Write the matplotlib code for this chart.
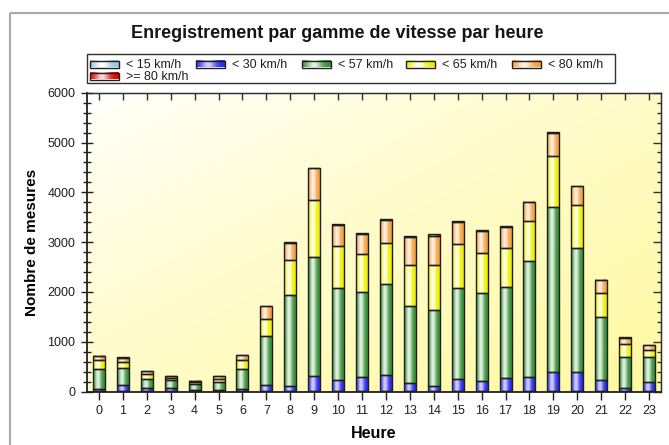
import numpy as np
import matplotlib
matplotlib.use('Agg')
import matplotlib.pyplot as plt
from matplotlib.colors import to_rgb
from matplotlib.patches import Rectangle
from matplotlib.ticker import MultipleLocator

# ---------------- data ----------------
hours = list(range(24))
hour_labels = [str(h) for h in hours]
series_labels = ['< 15 km/h', '< 30 km/h', '< 57 km/h', '< 65 km/h', '< 80 km/h', '>= 80 km/h']
lt15 = [10, 10, 5, 5, 5, 5, 10, 15, 15, 20, 15, 15, 20, 15, 10, 15, 15, 15, 15, 20, 20, 15, 10, 10]
lt30 = [40, 125, 65, 65, 20, 25, 45, 120, 105, 285, 215, 270, 310, 155, 110, 245, 200, 255, 275, 370, 370, 225, 70, 180]
lt57 = [400, 335, 185, 160, 120, 160, 395, 975, 1825, 2400, 1840, 1705, 1835, 1540, 1510, 1810, 1760, 1825, 2325, 3310, 2485, 1255, 610, 500]
lt65 = [175, 120, 95, 45, 40, 65, 185, 345, 700, 1150, 845, 780, 825, 825, 905, 895, 805, 785, 800, 1030, 870, 480, 260, 145]
lt80 = [85, 90, 60, 35, 30, 55, 100, 255, 345, 635, 435, 385, 460, 570, 590, 445, 435, 420, 385, 465, 380, 275, 120, 95]
ge80 = [0, 10, 0, 0, 0, 0, 0, 0, 20, 0, 20, 20, 20, 20, 30, 20, 20, 20, 0, 20, 0, 0, 20, 0]
title = 'Enregistrement par gamme de vitesse par heure'
xlabel = 'Heure'
ylabel = 'Nombre de mesures'

# ---------------- style ----------------
series = [lt15, lt30, lt57, lt65, lt80, ge80]
grad_colors = [('#9cc8e0', '#ffffff'),
               ('#2a2ae8', '#d0d0ff'),
               ('#3a903a', '#e2f2e2'),
               ('#eeee00', '#ffffe6'),
               ('#f4a040', '#fff0e0'),
               ('#e00000', '#ffd8d8')]

plt.rcParams['font.family'] = ['Liberation Sans', 'DejaVu Sans']
W, H = 669, 445
fig = plt.figure(figsize=(W / 100, H / 100), dpi=100)
fig.patch.set_facecolor('white')


def px(x0, y0, x1, y1):
    return [x0 / W, 1 - y1 / H, (x1 - x0) / W, (y1 - y0) / H]


def bar_gradient(edge, center, n=64):
    t = np.linspace(0, 1, n)
    w = np.exp(-((t - 0.42) / 0.26) ** 2)
    e = np.array(to_rgb(edge))
    c = np.array(to_rgb(center))
    cols = e[None, :] * (1 - w[:, None]) + c[None, :] * w[:, None]
    return cols[None, :, :]


ax = fig.add_axes(px(87, 92.7, 661, 391.6))
XL = (-0.5, 23.5)
YL = (0, 6000)

# background gradient
yy, xx = np.mgrid[0:1:200j, 0:1:200j]
t = np.clip((xx + yy) / 2.0, 0, 1) ** 0.8
c0 = np.array(to_rgb('#ffffff'))
c1 = np.array(to_rgb('#fff9a0'))
bg = c0[None, None, :] * (1 - t[..., None]) + c1[None, None, :] * t[..., None]
ax.imshow(bg, extent=[XL[0], XL[1], YL[0], YL[1]], aspect='auto', zorder=0,
          interpolation='bilinear', origin='upper')

bottom = np.zeros(len(hours))
for vals, (edge, center) in zip(series, grad_colors):
    vals = np.array(vals, dtype=float)
    cont = ax.bar(hours, vals, width=0.5, bottom=bottom, facecolor='none',
                  edgecolor='#1e1e1e', linewidth=1.0, zorder=3)
    img = bar_gradient(edge, center)
    for r in cont.patches:
        if r.get_height() > 0:
            ax.imshow(img, extent=[r.get_x(), r.get_x() + r.get_width(),
                                   r.get_y(), r.get_y() + r.get_height()],
                      aspect='auto', zorder=2, interpolation='bilinear')
    bottom += vals

ax.set_xlim(*XL)
ax.set_ylim(*YL)
ax.set_xticks(hours)
ax.set_xticklabels(hour_labels)
ax.yaxis.set_major_locator(MultipleLocator(1000))
ax.yaxis.set_minor_locator(MultipleLocator(200))
ax.tick_params(axis='x', direction='inout', length=12, width=1, pad=4,
               labelsize=9, colors='#202020')
ax.tick_params(axis='y', which='major', direction='inout', length=9, width=1,
               pad=4, labelsize=9, colors='#202020')
ax.tick_params(axis='y', which='minor', direction='inout', length=6, width=1,
               colors='#202020')
for s in ['left', 'bottom']:
    ax.spines[s].set_linewidth(1.3)
    ax.spines[s].set_color('#202020')
for s in ['top', 'right']:
    ax.spines[s].set_linewidth(1.0)
    ax.spines[s].set_color('#303030')

secx = ax.secondary_xaxis('top')
secx.set_xticks(hours)
secx.set_xticklabels([])
secx.tick_params(direction='in', length=5, width=1, colors='#303030')
secx.spines['top'].set_color('#303030')

secy = ax.secondary_yaxis('right')
secy.yaxis.set_major_locator(MultipleLocator(1000))
secy.yaxis.set_minor_locator(MultipleLocator(200))
secy.set_yticklabels([])
secy.tick_params(which='major', direction='in', length=6, width=1, colors='#303030')
secy.tick_params(which='minor', direction='in', length=3, width=1, colors='#303030')
secy.tick_params(labelright=False)
secy.spines['right'].set_color('#303030')

ax.set_xlabel(xlabel, fontsize=11.5, fontweight='bold', labelpad=6)
ax.set_ylabel(ylabel, fontsize=11, fontweight='bold', labelpad=6)

# overlay for title, legend, frame
ov = fig.add_axes([0, 0, 1, 1], zorder=10)
ov.set_xlim(0, W)
ov.set_ylim(H, 0)
ov.axis('off')
ov.patch.set_alpha(0)

ov.add_patch(Rectangle((10, 13), 800, 600, fill=False, edgecolor='#a8a8a8',
                       linewidth=1.5, clip_on=False))
ov.text(337, 33, title, ha='center', va='center', fontsize=13, fontweight='bold',
        color='#151515')

ov.add_patch(Rectangle((86.5, 54), 528, 28.5, facecolor='white',
                       edgecolor='#303030', linewidth=1.0))
leg_pos = [(90, 64), (196, 64), (302, 64), (406, 64), (512, 64), (90, 76)]
for (lx, ly), lab, (edge, center) in zip(leg_pos, series_labels, grad_colors):
    img = bar_gradient(edge, center)
    ov.imshow(img, extent=[lx, lx + 29, ly + 3.5, ly - 3.5],
              aspect='auto', interpolation='bilinear', zorder=2)
    ov.add_patch(Rectangle((lx, ly - 3.5), 29, 7, fill=False, edgecolor='#202020',
                           linewidth=1.0, zorder=3))
    ov.text(lx + 36, ly + 0.5, lab, ha='left', va='center', fontsize=9, color='#202020')
ov.set_xlim(0, W)
ov.set_ylim(H, 0)

fig.savefig('out.png', dpi=100)
